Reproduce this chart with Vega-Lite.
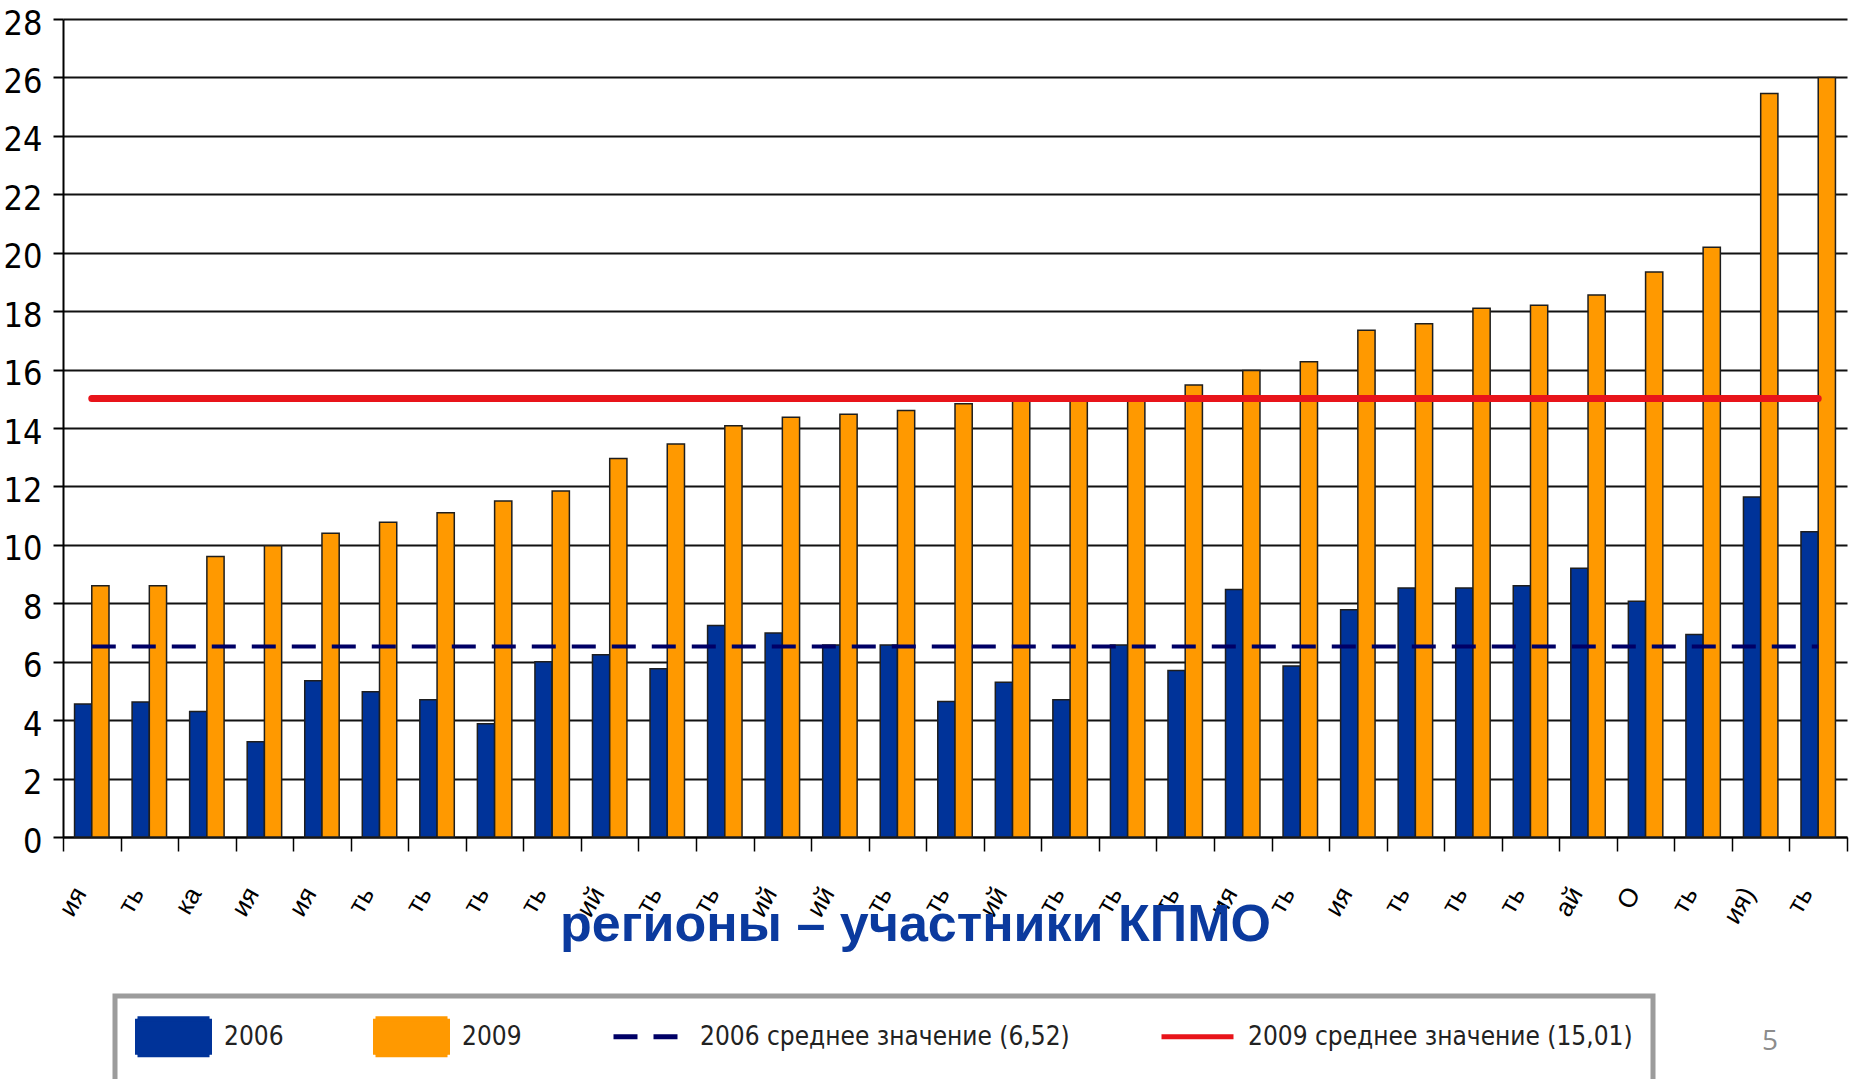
{
  "$schema": "https://vega.github.io/schema/vega-lite/v6.json",
  "width": 1784,
  "height": 818,
  "autosize": {"type": "none"},
  "padding": {"left": 63, "top": 19, "right": 6, "bottom": 242},
  "background": "white",
  "config": {
    "view": {"stroke": null},
    "font": "Liberation Sans",
    "legend": {
      "padding": 20, "strokeColor": "#9c9c9c", "fillColor": "#ffffff", "strokeWidth": 5,
      "labelFont": "DejaVu Sans Condensed, Liberation Sans, sans-serif", "labelFontSize": 26, "labelColor": "#222222",
      "labelOffset": 48, "labelLimit": 1000, "columnPadding": 81,
      "symbolOpacity": 1, "symbolStrokeWidth": 5, "symbolSize": 1296
    }
  },
  "title": {"text": "5", "orient": "bottom", "anchor": "end", "frame": "group", "dx": -69, "dy": -64, "fontSize": 28, "fontWeight": "normal", "color": "#8c8c8c", "font": "Open Sans"},
  "datasets": {
    "bars": [
      {"n": 1, "series": "2006", "value": 4.55}, {"n": 1, "series": "2009", "value": 8.6},
      {"n": 2, "series": "2006", "value": 4.62}, {"n": 2, "series": "2009", "value": 8.6},
      {"n": 3, "series": "2006", "value": 4.3}, {"n": 3, "series": "2009", "value": 9.6},
      {"n": 4, "series": "2006", "value": 3.26}, {"n": 4, "series": "2009", "value": 9.97},
      {"n": 5, "series": "2006", "value": 5.35}, {"n": 5, "series": "2009", "value": 10.4},
      {"n": 6, "series": "2006", "value": 4.97}, {"n": 6, "series": "2009", "value": 10.77},
      {"n": 7, "series": "2006", "value": 4.7}, {"n": 7, "series": "2009", "value": 11.1},
      {"n": 8, "series": "2006", "value": 3.88}, {"n": 8, "series": "2009", "value": 11.5},
      {"n": 9, "series": "2006", "value": 6.0}, {"n": 9, "series": "2009", "value": 11.84},
      {"n": 10, "series": "2006", "value": 6.24}, {"n": 10, "series": "2009", "value": 12.96},
      {"n": 11, "series": "2006", "value": 5.76}, {"n": 11, "series": "2009", "value": 13.45},
      {"n": 12, "series": "2006", "value": 7.24}, {"n": 12, "series": "2009", "value": 14.08},
      {"n": 13, "series": "2006", "value": 6.98}, {"n": 13, "series": "2009", "value": 14.37},
      {"n": 14, "series": "2006", "value": 6.57}, {"n": 14, "series": "2009", "value": 14.47},
      {"n": 15, "series": "2006", "value": 6.57}, {"n": 15, "series": "2009", "value": 14.6},
      {"n": 16, "series": "2006", "value": 4.64}, {"n": 16, "series": "2009", "value": 14.83},
      {"n": 17, "series": "2006", "value": 5.3}, {"n": 17, "series": "2009", "value": 15.0},
      {"n": 18, "series": "2006", "value": 4.7}, {"n": 18, "series": "2009", "value": 15.02},
      {"n": 19, "series": "2006", "value": 6.57}, {"n": 19, "series": "2009", "value": 15.03},
      {"n": 20, "series": "2006", "value": 5.7}, {"n": 20, "series": "2009", "value": 15.47},
      {"n": 21, "series": "2006", "value": 8.47}, {"n": 21, "series": "2009", "value": 15.97},
      {"n": 22, "series": "2006", "value": 5.85}, {"n": 22, "series": "2009", "value": 16.27},
      {"n": 23, "series": "2006", "value": 7.78}, {"n": 23, "series": "2009", "value": 17.35},
      {"n": 24, "series": "2006", "value": 8.52}, {"n": 24, "series": "2009", "value": 17.57},
      {"n": 25, "series": "2006", "value": 8.52}, {"n": 25, "series": "2009", "value": 18.1},
      {"n": 26, "series": "2006", "value": 8.6}, {"n": 26, "series": "2009", "value": 18.2},
      {"n": 27, "series": "2006", "value": 9.2}, {"n": 27, "series": "2009", "value": 18.55},
      {"n": 28, "series": "2006", "value": 8.07}, {"n": 28, "series": "2009", "value": 19.34},
      {"n": 29, "series": "2006", "value": 6.93}, {"n": 29, "series": "2009", "value": 20.19},
      {"n": 30, "series": "2006", "value": 11.64}, {"n": 30, "series": "2009", "value": 25.45},
      {"n": 31, "series": "2006", "value": 10.45}, {"n": 31, "series": "2009", "value": 26.0}
    ],
    "m2006": [
      {"n": 1, "series": "2006 среднее значение (6,52)", "value": 6.52},
      {"n": 31, "series": "2006 среднее значение (6,52)", "value": 6.52}
    ],
    "m2009": [
      {"n": 1, "series": "2009 среднее значение (15,01)", "value": 15.01},
      {"n": 31, "series": "2009 среднее значение (15,01)", "value": 15.01}
    ]
  },
  "layer": [
    {
      "data": {"name": "bars"},
      "mark": {"type": "bar", "stroke": "#1e1e1e", "strokeWidth": 1.5},
      "encoding": {
        "x": {
          "field": "n", "type": "ordinal",
          "scale": {"paddingInner": 0, "paddingOuter": 0},
          "axis": {
            "title": "регионы – участники КПМО",
            "titleFont": "Liberation Sans", "titleFontWeight": "bold", "titleFontSize": 52,
            "titleColor": "#0B3A9E", "titleX": 852, "titleY": 103,
            "titleBaseline": "alphabetic", "titleAlign": "center",
            "labelExpr": "['ия','ть','ка','ия','ия','ть','ть','ть','ть','ий','ть','ть','ий','ий','ть','ть','ий','ть','ть','ть','ия','ть','ия','ть','ть','ть','ай','О','ть','ия)','ть'][datum.value - 1]",
            "labelAngle": -60, "labelFontSize": 26, "labelColor": "#000000", "labelFont": "Liberation Sans",
            "labelPadding": 38, "labelOffset": -12, "labelAlign": "right", "labelBaseline": "middle",
            "labelOverlap": false,
            "tickBand": "extent", "tickSize": 14, "tickColor": "#000000", "tickWidth": 1.5,
            "domainColor": "#000000", "domainWidth": 2, "grid": false
          }
        },
        "xOffset": {"field": "series", "type": "nominal", "scale": {"domain": ["2006", "2009"], "paddingInner": 0, "paddingOuter": 0.67}},
        "y": {
          "field": "value", "type": "quantitative",
          "scale": {"domain": [0, 28], "nice": false},
          "axis": {
            "title": null,
            "values": [0,1,2,3,4,5,6,7,8,9,10,11,12,13,14,15,16,17,18,19,20,21,22,23,24,25,26,27,28],
            "grid": true, "gridColor": "#111111", "gridWidth": 2,
            "labelExpr": "datum.value % 2 === 0 ? datum.label : ''",
            "tickOpacity": {"condition": {"test": "datum.value % 2 !== 0", "value": 0}, "value": 1},
            "tickSize": 10, "tickColor": "#000000", "tickWidth": 2,
            "domainColor": "#000000", "domainWidth": 2,
            "labelFont": "DejaVu Sans Condensed, Liberation Sans, sans-serif", "labelFontSize": 34, "labelPadding": 11,
            "labelOffset": 5, "labelColor": "#000000", "labelBaseline": "middle", "labelOverlap": false
          }
        },
        "color": {
          "field": "series", "type": "nominal",
          "scale": {
            "domain": ["2006", "2009", "2006 среднее значение (6,52)", "2009 среднее значение (15,01)"],
            "range": ["#003399", "#FF9900", "#000066", "#E8141A"]
          },
          "legend": {"title": null, "orient": "none", "legendX": 52, "legendY": 977, "direction": "horizontal", "columns": 4}
        }
      }
    },
    {
      "data": {"name": "m2006"},
      "mark": {"type": "line", "strokeWidth": 4},
      "encoding": {
        "x": {"field": "n", "type": "ordinal"},
        "y": {"field": "value", "type": "quantitative"},
        "color": {
          "field": "series", "type": "nominal",
          "scale": {
            "domain": ["2006", "2009", "2006 среднее значение (6,52)", "2009 среднее значение (15,01)"],
            "range": ["#003399", "#FF9900", "#000066", "#E8141A"]
          },
          "legend": {"title": null, "orient": "none", "legendX": 52, "legendY": 977, "direction": "horizontal", "columns": 4}
        },
        "strokeDash": {
          "field": "series", "type": "nominal",
          "scale": {
            "domain": ["2006", "2009", "2006 среднее значение (6,52)", "2009 среднее значение (15,01)"],
            "range": [[1, 0], [1, 0], [24, 16], [1, 0]]
          },
          "legend": {"title": null, "orient": "none", "legendX": 52, "legendY": 977, "direction": "horizontal", "columns": 4}
        }
      }
    },
    {
      "data": {"name": "m2009"},
      "mark": {"type": "line", "strokeWidth": 7, "strokeCap": "round"},
      "encoding": {
        "x": {"field": "n", "type": "ordinal"},
        "y": {"field": "value", "type": "quantitative"},
        "color": {
          "field": "series", "type": "nominal",
          "scale": {
            "domain": ["2006", "2009", "2006 среднее значение (6,52)", "2009 среднее значение (15,01)"],
            "range": ["#003399", "#FF9900", "#000066", "#E8141A"]
          },
          "legend": {"title": null, "orient": "none", "legendX": 52, "legendY": 977, "direction": "horizontal", "columns": 4}
        },
        "strokeDash": {
          "field": "series", "type": "nominal",
          "scale": {
            "domain": ["2006", "2009", "2006 среднее значение (6,52)", "2009 среднее значение (15,01)"],
            "range": [[1, 0], [1, 0], [24, 16], [1, 0]]
          },
          "legend": {"title": null, "orient": "none", "legendX": 52, "legendY": 977, "direction": "horizontal", "columns": 4}
        }
      }
    },
    {
      "data": {"name": "m2009"},
      "mark": {"type": "point", "size": 0, "opacity": 0},
      "encoding": {
        "x": {"field": "n", "type": "ordinal"},
        "y": {"field": "value", "type": "quantitative"},
        "shape": {
          "field": "series", "type": "nominal",
          "scale": {
            "domain": ["2006", "2009", "2006 среднее значение (6,52)", "2009 среднее значение (15,01)"],
            "range": ["M-1,-1H3V1H-1Z", "M-1,-1H3V1H-1Z", "M-1,-1M3,1M-1,0H3", "M-1,-1M3,1M-1,0H3"]
          },
          "legend": {"title": null, "orient": "none", "legendX": 52, "legendY": 977, "direction": "horizontal", "columns": 4}
        }
      }
    }
  ]
}
